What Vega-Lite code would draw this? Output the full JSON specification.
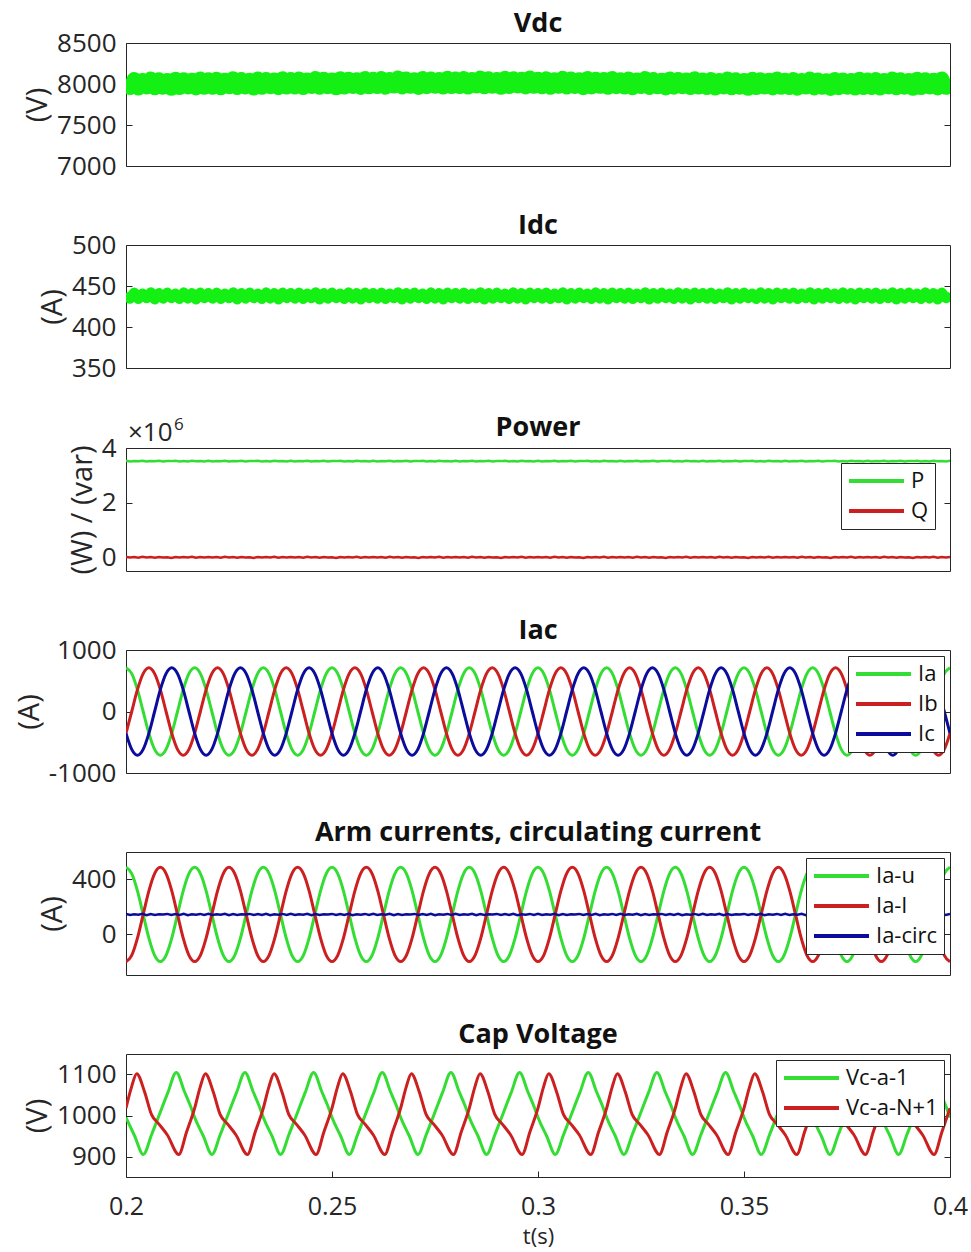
{
"$schema": "https://vega.github.io/schema/vega-lite/v6.json",
"background": "white",
"padding": {"top": 9, "left": 14, "right": 10, "bottom": 0},
"spacing": 31,
"config": {
  "font": "Open Sans",
  "view": {"stroke": "#262626", "strokeWidth": 1},
  "axis": {"labelFont": "Open Sans", "labelFontSize": 26, "labelColor": "#262626", "titleFont": "Open Sans", "titleFontSize": 29, "titleFontWeight": "normal", "titleColor": "#262626", "domain": false, "grid": false, "tickColor": "#262626", "tickSize": -6, "labelPadding": 16, "titlePadding": 4, "labelFlush": false, "labelOverlap": false, "labelExpr": "datum.value + ''"},
  "title": {"font": "Open Sans", "fontSize": 27, "fontWeight": "bold", "color": "#111", "offset": -8},
  "legend": {"orient": "top-right", "offset": 6, "fillColor": "white", "strokeColor": "#262626", "padding": 6, "symbolType": "stroke", "symbolSize": 3025, "symbolStrokeWidth": 4, "labelFont": "Open Sans", "labelFontSize": 22, "labelColor": "#111", "rowPadding": 6, "clipHeight": 24, "labelOffset": 5, "cornerRadius": 0}
},
"resolve": {"scale": {"color": "independent"}, "legend": {"color": "independent"}},
"datasets": {
"dc": [
{"t":0.2,"Vdc":8055,"Idc":441.5,"P":3.53,"Q":0.015,"circ":147},
{"t":0.201,"Vdc":7952,"Idc":434.5,"P":3.51,"Q":-0.01,"circ":139},
{"t":0.202,"Vdc":8062,"Idc":442,"P":3.525,"Q":0.01,"circ":145},
{"t":0.203,"Vdc":7945,"Idc":434,"P":3.515,"Q":-0.015,"circ":141},
{"t":0.204,"Vdc":8050,"Idc":441,"P":3.535,"Q":0.02,"circ":148},
{"t":0.205,"Vdc":7958,"Idc":435,"P":3.505,"Q":-0.005,"circ":138},
{"t":0.206,"Vdc":8068,"Idc":442.5,"P":3.52,"Q":0.01,"circ":146},
{"t":0.207,"Vdc":7948,"Idc":433.5,"P":3.515,"Q":-0.015,"circ":140},
{"t":0.208,"Vdc":8058,"Idc":441.5,"P":3.53,"Q":0.015,"circ":144},
{"t":0.209,"Vdc":7955,"Idc":434.5,"P":3.51,"Q":-0.01,"circ":142},
{"t":0.21,"Vdc":8049,"Idc":442,"P":3.525,"Q":0.005,"circ":147},
{"t":0.211,"Vdc":7941,"Idc":435,"P":3.52,"Q":-0.02,"circ":139},
{"t":0.212,"Vdc":8064,"Idc":441,"P":3.535,"Q":0.015,"circ":146},
{"t":0.213,"Vdc":7950,"Idc":434,"P":3.51,"Q":-0.01,"circ":140},
{"t":0.214,"Vdc":8057,"Idc":442.5,"P":3.52,"Q":0.01,"circ":148},
{"t":0.215,"Vdc":7957,"Idc":434.5,"P":3.505,"Q":-0.005,"circ":138},
{"t":0.216,"Vdc":8052,"Idc":441.5,"P":3.53,"Q":0.02,"circ":145},
{"t":0.217,"Vdc":7946,"Idc":433.5,"P":3.515,"Q":-0.015,"circ":141},
{"t":0.218,"Vdc":8066,"Idc":442,"P":3.525,"Q":0.01,"circ":147},
{"t":0.219,"Vdc":7953,"Idc":435,"P":3.51,"Q":-0.01,"circ":139},
{"t":0.22,"Vdc":8058,"Idc":441.5,"P":3.53,"Q":0.015,"circ":147},
{"t":0.221,"Vdc":7955,"Idc":434.5,"P":3.51,"Q":-0.01,"circ":139},
{"t":0.222,"Vdc":8065,"Idc":442,"P":3.525,"Q":0.01,"circ":145},
{"t":0.223,"Vdc":7948,"Idc":434,"P":3.515,"Q":-0.015,"circ":141},
{"t":0.224,"Vdc":8053,"Idc":441,"P":3.535,"Q":0.02,"circ":148},
{"t":0.225,"Vdc":7961,"Idc":435,"P":3.505,"Q":-0.005,"circ":138},
{"t":0.226,"Vdc":8071,"Idc":442.5,"P":3.52,"Q":0.01,"circ":146},
{"t":0.227,"Vdc":7951,"Idc":433.5,"P":3.515,"Q":-0.015,"circ":140},
{"t":0.228,"Vdc":8061,"Idc":441.5,"P":3.53,"Q":0.015,"circ":144},
{"t":0.229,"Vdc":7958,"Idc":434.5,"P":3.51,"Q":-0.01,"circ":142},
{"t":0.23,"Vdc":8052,"Idc":442,"P":3.525,"Q":0.005,"circ":147},
{"t":0.231,"Vdc":7944,"Idc":435,"P":3.52,"Q":-0.02,"circ":139},
{"t":0.232,"Vdc":8067,"Idc":441,"P":3.535,"Q":0.015,"circ":146},
{"t":0.233,"Vdc":7953,"Idc":434,"P":3.51,"Q":-0.01,"circ":140},
{"t":0.234,"Vdc":8060,"Idc":442.5,"P":3.52,"Q":0.01,"circ":148},
{"t":0.235,"Vdc":7960,"Idc":434.5,"P":3.505,"Q":-0.005,"circ":138},
{"t":0.236,"Vdc":8055,"Idc":441.5,"P":3.53,"Q":0.02,"circ":145},
{"t":0.237,"Vdc":7949,"Idc":433.5,"P":3.515,"Q":-0.015,"circ":141},
{"t":0.238,"Vdc":8069,"Idc":442,"P":3.525,"Q":0.01,"circ":147},
{"t":0.239,"Vdc":7956,"Idc":435,"P":3.51,"Q":-0.01,"circ":139},
{"t":0.24,"Vdc":8061,"Idc":441.5,"P":3.53,"Q":0.015,"circ":147},
{"t":0.241,"Vdc":7958,"Idc":434.5,"P":3.51,"Q":-0.01,"circ":139},
{"t":0.242,"Vdc":8068,"Idc":442,"P":3.525,"Q":0.01,"circ":145},
{"t":0.243,"Vdc":7951,"Idc":434,"P":3.515,"Q":-0.015,"circ":141},
{"t":0.244,"Vdc":8056,"Idc":441,"P":3.535,"Q":0.02,"circ":148},
{"t":0.245,"Vdc":7964,"Idc":435,"P":3.505,"Q":-0.005,"circ":138},
{"t":0.246,"Vdc":8074,"Idc":442.5,"P":3.52,"Q":0.01,"circ":146},
{"t":0.247,"Vdc":7954,"Idc":433.5,"P":3.515,"Q":-0.015,"circ":140},
{"t":0.248,"Vdc":8064,"Idc":441.5,"P":3.53,"Q":0.015,"circ":144},
{"t":0.249,"Vdc":7961,"Idc":434.5,"P":3.51,"Q":-0.01,"circ":142},
{"t":0.25,"Vdc":8055,"Idc":442,"P":3.525,"Q":0.005,"circ":147},
{"t":0.251,"Vdc":7947,"Idc":435,"P":3.52,"Q":-0.02,"circ":139},
{"t":0.252,"Vdc":8070,"Idc":441,"P":3.535,"Q":0.015,"circ":146},
{"t":0.253,"Vdc":7956,"Idc":434,"P":3.51,"Q":-0.01,"circ":140},
{"t":0.254,"Vdc":8063,"Idc":442.5,"P":3.52,"Q":0.01,"circ":148},
{"t":0.255,"Vdc":7963,"Idc":434.5,"P":3.505,"Q":-0.005,"circ":138},
{"t":0.256,"Vdc":8058,"Idc":441.5,"P":3.53,"Q":0.02,"circ":145},
{"t":0.257,"Vdc":7952,"Idc":433.5,"P":3.515,"Q":-0.015,"circ":141},
{"t":0.258,"Vdc":8072,"Idc":442,"P":3.525,"Q":0.01,"circ":147},
{"t":0.259,"Vdc":7959,"Idc":435,"P":3.51,"Q":-0.01,"circ":139},
{"t":0.26,"Vdc":8065,"Idc":441.5,"P":3.53,"Q":0.015,"circ":147},
{"t":0.261,"Vdc":7962,"Idc":434.5,"P":3.51,"Q":-0.01,"circ":139},
{"t":0.262,"Vdc":8072,"Idc":442,"P":3.525,"Q":0.01,"circ":145},
{"t":0.263,"Vdc":7955,"Idc":434,"P":3.515,"Q":-0.015,"circ":141},
{"t":0.264,"Vdc":8060,"Idc":441,"P":3.535,"Q":0.02,"circ":148},
{"t":0.265,"Vdc":7968,"Idc":435,"P":3.505,"Q":-0.005,"circ":138},
{"t":0.266,"Vdc":8078,"Idc":442.5,"P":3.52,"Q":0.01,"circ":146},
{"t":0.267,"Vdc":7958,"Idc":433.5,"P":3.515,"Q":-0.015,"circ":140},
{"t":0.268,"Vdc":8068,"Idc":441.5,"P":3.53,"Q":0.015,"circ":144},
{"t":0.269,"Vdc":7965,"Idc":434.5,"P":3.51,"Q":-0.01,"circ":142},
{"t":0.27,"Vdc":8059,"Idc":442,"P":3.525,"Q":0.005,"circ":147},
{"t":0.271,"Vdc":7951,"Idc":435,"P":3.52,"Q":-0.02,"circ":139},
{"t":0.272,"Vdc":8074,"Idc":441,"P":3.535,"Q":0.015,"circ":146},
{"t":0.273,"Vdc":7960,"Idc":434,"P":3.51,"Q":-0.01,"circ":140},
{"t":0.274,"Vdc":8067,"Idc":442.5,"P":3.52,"Q":0.01,"circ":148},
{"t":0.275,"Vdc":7967,"Idc":434.5,"P":3.505,"Q":-0.005,"circ":138},
{"t":0.276,"Vdc":8062,"Idc":441.5,"P":3.53,"Q":0.02,"circ":145},
{"t":0.277,"Vdc":7956,"Idc":433.5,"P":3.515,"Q":-0.015,"circ":141},
{"t":0.278,"Vdc":8076,"Idc":442,"P":3.525,"Q":0.01,"circ":147},
{"t":0.279,"Vdc":7963,"Idc":435,"P":3.51,"Q":-0.01,"circ":139},
{"t":0.28,"Vdc":8067,"Idc":441.5,"P":3.53,"Q":0.015,"circ":147},
{"t":0.281,"Vdc":7964,"Idc":434.5,"P":3.51,"Q":-0.01,"circ":139},
{"t":0.282,"Vdc":8074,"Idc":442,"P":3.525,"Q":0.01,"circ":145},
{"t":0.283,"Vdc":7957,"Idc":434,"P":3.515,"Q":-0.015,"circ":141},
{"t":0.284,"Vdc":8062,"Idc":441,"P":3.535,"Q":0.02,"circ":148},
{"t":0.285,"Vdc":7970,"Idc":435,"P":3.505,"Q":-0.005,"circ":138},
{"t":0.286,"Vdc":8080,"Idc":442.5,"P":3.52,"Q":0.01,"circ":146},
{"t":0.287,"Vdc":7960,"Idc":433.5,"P":3.515,"Q":-0.015,"circ":140},
{"t":0.288,"Vdc":8070,"Idc":441.5,"P":3.53,"Q":0.015,"circ":144},
{"t":0.289,"Vdc":7967,"Idc":434.5,"P":3.51,"Q":-0.01,"circ":142},
{"t":0.29,"Vdc":8061,"Idc":442,"P":3.525,"Q":0.005,"circ":147},
{"t":0.291,"Vdc":7953,"Idc":435,"P":3.52,"Q":-0.02,"circ":139},
{"t":0.292,"Vdc":8076,"Idc":441,"P":3.535,"Q":0.015,"circ":146},
{"t":0.293,"Vdc":7962,"Idc":434,"P":3.51,"Q":-0.01,"circ":140},
{"t":0.294,"Vdc":8069,"Idc":442.5,"P":3.52,"Q":0.01,"circ":148},
{"t":0.295,"Vdc":7969,"Idc":434.5,"P":3.505,"Q":-0.005,"circ":138},
{"t":0.296,"Vdc":8064,"Idc":441.5,"P":3.53,"Q":0.02,"circ":145},
{"t":0.297,"Vdc":7958,"Idc":433.5,"P":3.515,"Q":-0.015,"circ":141},
{"t":0.298,"Vdc":8078,"Idc":442,"P":3.525,"Q":0.01,"circ":147},
{"t":0.299,"Vdc":7965,"Idc":435,"P":3.51,"Q":-0.01,"circ":139},
{"t":0.3,"Vdc":8063,"Idc":441.5,"P":3.53,"Q":0.015,"circ":147},
{"t":0.301,"Vdc":7960,"Idc":434.5,"P":3.51,"Q":-0.01,"circ":139},
{"t":0.302,"Vdc":8070,"Idc":442,"P":3.525,"Q":0.01,"circ":145},
{"t":0.303,"Vdc":7953,"Idc":434,"P":3.515,"Q":-0.015,"circ":141},
{"t":0.304,"Vdc":8058,"Idc":441,"P":3.535,"Q":0.02,"circ":148},
{"t":0.305,"Vdc":7966,"Idc":435,"P":3.505,"Q":-0.005,"circ":138},
{"t":0.306,"Vdc":8076,"Idc":442.5,"P":3.52,"Q":0.01,"circ":146},
{"t":0.307,"Vdc":7956,"Idc":433.5,"P":3.515,"Q":-0.015,"circ":140},
{"t":0.308,"Vdc":8066,"Idc":441.5,"P":3.53,"Q":0.015,"circ":144},
{"t":0.309,"Vdc":7963,"Idc":434.5,"P":3.51,"Q":-0.01,"circ":142},
{"t":0.31,"Vdc":8057,"Idc":442,"P":3.525,"Q":0.005,"circ":147},
{"t":0.311,"Vdc":7949,"Idc":435,"P":3.52,"Q":-0.02,"circ":139},
{"t":0.312,"Vdc":8072,"Idc":441,"P":3.535,"Q":0.015,"circ":146},
{"t":0.313,"Vdc":7958,"Idc":434,"P":3.51,"Q":-0.01,"circ":140},
{"t":0.314,"Vdc":8065,"Idc":442.5,"P":3.52,"Q":0.01,"circ":148},
{"t":0.315,"Vdc":7965,"Idc":434.5,"P":3.505,"Q":-0.005,"circ":138},
{"t":0.316,"Vdc":8060,"Idc":441.5,"P":3.53,"Q":0.02,"circ":145},
{"t":0.317,"Vdc":7954,"Idc":433.5,"P":3.515,"Q":-0.015,"circ":141},
{"t":0.318,"Vdc":8074,"Idc":442,"P":3.525,"Q":0.01,"circ":147},
{"t":0.319,"Vdc":7961,"Idc":435,"P":3.51,"Q":-0.01,"circ":139},
{"t":0.32,"Vdc":8059,"Idc":441.5,"P":3.53,"Q":0.015,"circ":147},
{"t":0.321,"Vdc":7956,"Idc":434.5,"P":3.51,"Q":-0.01,"circ":139},
{"t":0.322,"Vdc":8066,"Idc":442,"P":3.525,"Q":0.01,"circ":145},
{"t":0.323,"Vdc":7949,"Idc":434,"P":3.515,"Q":-0.015,"circ":141},
{"t":0.324,"Vdc":8054,"Idc":441,"P":3.535,"Q":0.02,"circ":148},
{"t":0.325,"Vdc":7962,"Idc":435,"P":3.505,"Q":-0.005,"circ":138},
{"t":0.326,"Vdc":8072,"Idc":442.5,"P":3.52,"Q":0.01,"circ":146},
{"t":0.327,"Vdc":7952,"Idc":433.5,"P":3.515,"Q":-0.015,"circ":140},
{"t":0.328,"Vdc":8062,"Idc":441.5,"P":3.53,"Q":0.015,"circ":144},
{"t":0.329,"Vdc":7959,"Idc":434.5,"P":3.51,"Q":-0.01,"circ":142},
{"t":0.33,"Vdc":8053,"Idc":442,"P":3.525,"Q":0.005,"circ":147},
{"t":0.331,"Vdc":7945,"Idc":435,"P":3.52,"Q":-0.02,"circ":139},
{"t":0.332,"Vdc":8068,"Idc":441,"P":3.535,"Q":0.015,"circ":146},
{"t":0.333,"Vdc":7954,"Idc":434,"P":3.51,"Q":-0.01,"circ":140},
{"t":0.334,"Vdc":8061,"Idc":442.5,"P":3.52,"Q":0.01,"circ":148},
{"t":0.335,"Vdc":7961,"Idc":434.5,"P":3.505,"Q":-0.005,"circ":138},
{"t":0.336,"Vdc":8056,"Idc":441.5,"P":3.53,"Q":0.02,"circ":145},
{"t":0.337,"Vdc":7950,"Idc":433.5,"P":3.515,"Q":-0.015,"circ":141},
{"t":0.338,"Vdc":8070,"Idc":442,"P":3.525,"Q":0.01,"circ":147},
{"t":0.339,"Vdc":7957,"Idc":435,"P":3.51,"Q":-0.01,"circ":139},
{"t":0.34,"Vdc":8055,"Idc":441.5,"P":3.53,"Q":0.015,"circ":147},
{"t":0.341,"Vdc":7952,"Idc":434.5,"P":3.51,"Q":-0.01,"circ":139},
{"t":0.342,"Vdc":8062,"Idc":442,"P":3.525,"Q":0.01,"circ":145},
{"t":0.343,"Vdc":7945,"Idc":434,"P":3.515,"Q":-0.015,"circ":141},
{"t":0.344,"Vdc":8050,"Idc":441,"P":3.535,"Q":0.02,"circ":148},
{"t":0.345,"Vdc":7958,"Idc":435,"P":3.505,"Q":-0.005,"circ":138},
{"t":0.346,"Vdc":8068,"Idc":442.5,"P":3.52,"Q":0.01,"circ":146},
{"t":0.347,"Vdc":7948,"Idc":433.5,"P":3.515,"Q":-0.015,"circ":140},
{"t":0.348,"Vdc":8058,"Idc":441.5,"P":3.53,"Q":0.015,"circ":144},
{"t":0.349,"Vdc":7955,"Idc":434.5,"P":3.51,"Q":-0.01,"circ":142},
{"t":0.35,"Vdc":8049,"Idc":442,"P":3.525,"Q":0.005,"circ":147},
{"t":0.351,"Vdc":7941,"Idc":435,"P":3.52,"Q":-0.02,"circ":139},
{"t":0.352,"Vdc":8064,"Idc":441,"P":3.535,"Q":0.015,"circ":146},
{"t":0.353,"Vdc":7950,"Idc":434,"P":3.51,"Q":-0.01,"circ":140},
{"t":0.354,"Vdc":8057,"Idc":442.5,"P":3.52,"Q":0.01,"circ":148},
{"t":0.355,"Vdc":7957,"Idc":434.5,"P":3.505,"Q":-0.005,"circ":138},
{"t":0.356,"Vdc":8052,"Idc":441.5,"P":3.53,"Q":0.02,"circ":145},
{"t":0.357,"Vdc":7946,"Idc":433.5,"P":3.515,"Q":-0.015,"circ":141},
{"t":0.358,"Vdc":8066,"Idc":442,"P":3.525,"Q":0.01,"circ":147},
{"t":0.359,"Vdc":7953,"Idc":435,"P":3.51,"Q":-0.01,"circ":139},
{"t":0.36,"Vdc":8053,"Idc":441.5,"P":3.53,"Q":0.015,"circ":147},
{"t":0.361,"Vdc":7950,"Idc":434.5,"P":3.51,"Q":-0.01,"circ":139},
{"t":0.362,"Vdc":8060,"Idc":442,"P":3.525,"Q":0.01,"circ":145},
{"t":0.363,"Vdc":7943,"Idc":434,"P":3.515,"Q":-0.015,"circ":141},
{"t":0.364,"Vdc":8048,"Idc":441,"P":3.535,"Q":0.02,"circ":148},
{"t":0.365,"Vdc":7956,"Idc":435,"P":3.505,"Q":-0.005,"circ":138},
{"t":0.366,"Vdc":8066,"Idc":442.5,"P":3.52,"Q":0.01,"circ":146},
{"t":0.367,"Vdc":7946,"Idc":433.5,"P":3.515,"Q":-0.015,"circ":140},
{"t":0.368,"Vdc":8056,"Idc":441.5,"P":3.53,"Q":0.015,"circ":144},
{"t":0.369,"Vdc":7953,"Idc":434.5,"P":3.51,"Q":-0.01,"circ":142},
{"t":0.37,"Vdc":8047,"Idc":442,"P":3.525,"Q":0.005,"circ":147},
{"t":0.371,"Vdc":7939,"Idc":435,"P":3.52,"Q":-0.02,"circ":139},
{"t":0.372,"Vdc":8062,"Idc":441,"P":3.535,"Q":0.015,"circ":146},
{"t":0.373,"Vdc":7948,"Idc":434,"P":3.51,"Q":-0.01,"circ":140},
{"t":0.374,"Vdc":8055,"Idc":442.5,"P":3.52,"Q":0.01,"circ":148},
{"t":0.375,"Vdc":7955,"Idc":434.5,"P":3.505,"Q":-0.005,"circ":138},
{"t":0.376,"Vdc":8050,"Idc":441.5,"P":3.53,"Q":0.02,"circ":145},
{"t":0.377,"Vdc":7944,"Idc":433.5,"P":3.515,"Q":-0.015,"circ":141},
{"t":0.378,"Vdc":8064,"Idc":442,"P":3.525,"Q":0.01,"circ":147},
{"t":0.379,"Vdc":7951,"Idc":435,"P":3.51,"Q":-0.01,"circ":139},
{"t":0.38,"Vdc":8055,"Idc":441.5,"P":3.53,"Q":0.015,"circ":147},
{"t":0.381,"Vdc":7952,"Idc":434.5,"P":3.51,"Q":-0.01,"circ":139},
{"t":0.382,"Vdc":8062,"Idc":442,"P":3.525,"Q":0.01,"circ":145},
{"t":0.383,"Vdc":7945,"Idc":434,"P":3.515,"Q":-0.015,"circ":141},
{"t":0.384,"Vdc":8050,"Idc":441,"P":3.535,"Q":0.02,"circ":148},
{"t":0.385,"Vdc":7958,"Idc":435,"P":3.505,"Q":-0.005,"circ":138},
{"t":0.386,"Vdc":8068,"Idc":442.5,"P":3.52,"Q":0.01,"circ":146},
{"t":0.387,"Vdc":7948,"Idc":433.5,"P":3.515,"Q":-0.015,"circ":140},
{"t":0.388,"Vdc":8058,"Idc":441.5,"P":3.53,"Q":0.015,"circ":144},
{"t":0.389,"Vdc":7955,"Idc":434.5,"P":3.51,"Q":-0.01,"circ":142},
{"t":0.39,"Vdc":8049,"Idc":442,"P":3.525,"Q":0.005,"circ":147},
{"t":0.391,"Vdc":7941,"Idc":435,"P":3.52,"Q":-0.02,"circ":139},
{"t":0.392,"Vdc":8064,"Idc":441,"P":3.535,"Q":0.015,"circ":146},
{"t":0.393,"Vdc":7950,"Idc":434,"P":3.51,"Q":-0.01,"circ":140},
{"t":0.394,"Vdc":8057,"Idc":442.5,"P":3.52,"Q":0.01,"circ":148},
{"t":0.395,"Vdc":7957,"Idc":434.5,"P":3.505,"Q":-0.005,"circ":138},
{"t":0.396,"Vdc":8052,"Idc":441.5,"P":3.53,"Q":0.02,"circ":145},
{"t":0.397,"Vdc":7946,"Idc":433.5,"P":3.515,"Q":-0.015,"circ":141},
{"t":0.398,"Vdc":8066,"Idc":442,"P":3.525,"Q":0.01,"circ":147},
{"t":0.399,"Vdc":7953,"Idc":435,"P":3.51,"Q":-0.01,"circ":139},
{"t":0.4,"Vdc":8055,"Idc":441.5,"P":3.53,"Q":0.015,"circ":147}
],
"ac": [
{"t":0.2,"Ia":710,"Ib":-355,"Ic":-355,"Iu":488,"Il":-202},
{"t":0.201389,"Ia":615,"Ib":0,"Ic":-615,"Iu":442,"Il":-156},
{"t":0.202778,"Ia":355,"Ib":355,"Ic":-710,"Iu":316,"Il":-30},
{"t":0.204167,"Ia":0,"Ib":615,"Ic":-615,"Iu":143,"Il":143},
{"t":0.205556,"Ia":-355,"Ib":710,"Ic":-355,"Iu":-30,"Il":316},
{"t":0.206944,"Ia":-615,"Ib":615,"Ic":0,"Iu":-156,"Il":442},
{"t":0.208333,"Ia":-710,"Ib":355,"Ic":355,"Iu":-202,"Il":488},
{"t":0.209722,"Ia":-615,"Ib":0,"Ic":615,"Iu":-156,"Il":442},
{"t":0.211111,"Ia":-355,"Ib":-355,"Ic":710,"Iu":-30,"Il":316},
{"t":0.2125,"Ia":0,"Ib":-615,"Ic":615,"Iu":143,"Il":143},
{"t":0.213889,"Ia":355,"Ib":-710,"Ic":355,"Iu":316,"Il":-30},
{"t":0.215278,"Ia":615,"Ib":-615,"Ic":0,"Iu":442,"Il":-156},
{"t":0.216667,"Ia":710,"Ib":-355,"Ic":-355,"Iu":488,"Il":-202},
{"t":0.218056,"Ia":615,"Ib":0,"Ic":-615,"Iu":442,"Il":-156},
{"t":0.219444,"Ia":355,"Ib":355,"Ic":-710,"Iu":316,"Il":-30},
{"t":0.220833,"Ia":0,"Ib":615,"Ic":-615,"Iu":143,"Il":143},
{"t":0.222222,"Ia":-355,"Ib":710,"Ic":-355,"Iu":-30,"Il":316},
{"t":0.223611,"Ia":-615,"Ib":615,"Ic":0,"Iu":-156,"Il":442},
{"t":0.225,"Ia":-710,"Ib":355,"Ic":355,"Iu":-202,"Il":488},
{"t":0.226389,"Ia":-615,"Ib":0,"Ic":615,"Iu":-156,"Il":442},
{"t":0.227778,"Ia":-355,"Ib":-355,"Ic":710,"Iu":-30,"Il":316},
{"t":0.229167,"Ia":0,"Ib":-615,"Ic":615,"Iu":143,"Il":143},
{"t":0.230556,"Ia":355,"Ib":-710,"Ic":355,"Iu":316,"Il":-30},
{"t":0.231944,"Ia":615,"Ib":-615,"Ic":0,"Iu":442,"Il":-156},
{"t":0.233333,"Ia":710,"Ib":-355,"Ic":-355,"Iu":488,"Il":-202},
{"t":0.234722,"Ia":615,"Ib":0,"Ic":-615,"Iu":442,"Il":-156},
{"t":0.236111,"Ia":355,"Ib":355,"Ic":-710,"Iu":316,"Il":-30},
{"t":0.2375,"Ia":0,"Ib":615,"Ic":-615,"Iu":143,"Il":143},
{"t":0.238889,"Ia":-355,"Ib":710,"Ic":-355,"Iu":-30,"Il":316},
{"t":0.240278,"Ia":-615,"Ib":615,"Ic":0,"Iu":-156,"Il":442},
{"t":0.241667,"Ia":-710,"Ib":355,"Ic":355,"Iu":-202,"Il":488},
{"t":0.243056,"Ia":-615,"Ib":0,"Ic":615,"Iu":-156,"Il":442},
{"t":0.244444,"Ia":-355,"Ib":-355,"Ic":710,"Iu":-30,"Il":316},
{"t":0.245833,"Ia":0,"Ib":-615,"Ic":615,"Iu":143,"Il":143},
{"t":0.247222,"Ia":355,"Ib":-710,"Ic":355,"Iu":316,"Il":-30},
{"t":0.248611,"Ia":615,"Ib":-615,"Ic":0,"Iu":442,"Il":-156},
{"t":0.25,"Ia":710,"Ib":-355,"Ic":-355,"Iu":488,"Il":-202},
{"t":0.251389,"Ia":615,"Ib":0,"Ic":-615,"Iu":442,"Il":-156},
{"t":0.252778,"Ia":355,"Ib":355,"Ic":-710,"Iu":316,"Il":-30},
{"t":0.254167,"Ia":0,"Ib":615,"Ic":-615,"Iu":143,"Il":143},
{"t":0.255556,"Ia":-355,"Ib":710,"Ic":-355,"Iu":-30,"Il":316},
{"t":0.256944,"Ia":-615,"Ib":615,"Ic":0,"Iu":-156,"Il":442},
{"t":0.258333,"Ia":-710,"Ib":355,"Ic":355,"Iu":-202,"Il":488},
{"t":0.259722,"Ia":-615,"Ib":0,"Ic":615,"Iu":-156,"Il":442},
{"t":0.261111,"Ia":-355,"Ib":-355,"Ic":710,"Iu":-30,"Il":316},
{"t":0.2625,"Ia":0,"Ib":-615,"Ic":615,"Iu":143,"Il":143},
{"t":0.263889,"Ia":355,"Ib":-710,"Ic":355,"Iu":316,"Il":-30},
{"t":0.265278,"Ia":615,"Ib":-615,"Ic":0,"Iu":442,"Il":-156},
{"t":0.266667,"Ia":710,"Ib":-355,"Ic":-355,"Iu":488,"Il":-202},
{"t":0.268056,"Ia":615,"Ib":0,"Ic":-615,"Iu":442,"Il":-156},
{"t":0.269444,"Ia":355,"Ib":355,"Ic":-710,"Iu":316,"Il":-30},
{"t":0.270833,"Ia":0,"Ib":615,"Ic":-615,"Iu":143,"Il":143},
{"t":0.272222,"Ia":-355,"Ib":710,"Ic":-355,"Iu":-30,"Il":316},
{"t":0.273611,"Ia":-615,"Ib":615,"Ic":0,"Iu":-156,"Il":442},
{"t":0.275,"Ia":-710,"Ib":355,"Ic":355,"Iu":-202,"Il":488},
{"t":0.276389,"Ia":-615,"Ib":0,"Ic":615,"Iu":-156,"Il":442},
{"t":0.277778,"Ia":-355,"Ib":-355,"Ic":710,"Iu":-30,"Il":316},
{"t":0.279167,"Ia":0,"Ib":-615,"Ic":615,"Iu":143,"Il":143},
{"t":0.280556,"Ia":355,"Ib":-710,"Ic":355,"Iu":316,"Il":-30},
{"t":0.281944,"Ia":615,"Ib":-615,"Ic":0,"Iu":442,"Il":-156},
{"t":0.283333,"Ia":710,"Ib":-355,"Ic":-355,"Iu":488,"Il":-202},
{"t":0.284722,"Ia":615,"Ib":0,"Ic":-615,"Iu":442,"Il":-156},
{"t":0.286111,"Ia":355,"Ib":355,"Ic":-710,"Iu":316,"Il":-30},
{"t":0.2875,"Ia":0,"Ib":615,"Ic":-615,"Iu":143,"Il":143},
{"t":0.288889,"Ia":-355,"Ib":710,"Ic":-355,"Iu":-30,"Il":316},
{"t":0.290278,"Ia":-615,"Ib":615,"Ic":0,"Iu":-156,"Il":442},
{"t":0.291667,"Ia":-710,"Ib":355,"Ic":355,"Iu":-202,"Il":488},
{"t":0.293056,"Ia":-615,"Ib":0,"Ic":615,"Iu":-156,"Il":442},
{"t":0.294444,"Ia":-355,"Ib":-355,"Ic":710,"Iu":-30,"Il":316},
{"t":0.295833,"Ia":0,"Ib":-615,"Ic":615,"Iu":143,"Il":143},
{"t":0.297222,"Ia":355,"Ib":-710,"Ic":355,"Iu":316,"Il":-30},
{"t":0.298611,"Ia":615,"Ib":-615,"Ic":0,"Iu":442,"Il":-156},
{"t":0.3,"Ia":710,"Ib":-355,"Ic":-355,"Iu":488,"Il":-202},
{"t":0.301389,"Ia":615,"Ib":0,"Ic":-615,"Iu":442,"Il":-156},
{"t":0.302778,"Ia":355,"Ib":355,"Ic":-710,"Iu":316,"Il":-30},
{"t":0.304167,"Ia":0,"Ib":615,"Ic":-615,"Iu":143,"Il":143},
{"t":0.305556,"Ia":-355,"Ib":710,"Ic":-355,"Iu":-30,"Il":316},
{"t":0.306944,"Ia":-615,"Ib":615,"Ic":0,"Iu":-156,"Il":442},
{"t":0.308333,"Ia":-710,"Ib":355,"Ic":355,"Iu":-202,"Il":488},
{"t":0.309722,"Ia":-615,"Ib":0,"Ic":615,"Iu":-156,"Il":442},
{"t":0.311111,"Ia":-355,"Ib":-355,"Ic":710,"Iu":-30,"Il":316},
{"t":0.3125,"Ia":0,"Ib":-615,"Ic":615,"Iu":143,"Il":143},
{"t":0.313889,"Ia":355,"Ib":-710,"Ic":355,"Iu":316,"Il":-30},
{"t":0.315278,"Ia":615,"Ib":-615,"Ic":0,"Iu":442,"Il":-156},
{"t":0.316667,"Ia":710,"Ib":-355,"Ic":-355,"Iu":488,"Il":-202},
{"t":0.318056,"Ia":615,"Ib":0,"Ic":-615,"Iu":442,"Il":-156},
{"t":0.319444,"Ia":355,"Ib":355,"Ic":-710,"Iu":316,"Il":-30},
{"t":0.320833,"Ia":0,"Ib":615,"Ic":-615,"Iu":143,"Il":143},
{"t":0.322222,"Ia":-355,"Ib":710,"Ic":-355,"Iu":-30,"Il":316},
{"t":0.323611,"Ia":-615,"Ib":615,"Ic":0,"Iu":-156,"Il":442},
{"t":0.325,"Ia":-710,"Ib":355,"Ic":355,"Iu":-202,"Il":488},
{"t":0.326389,"Ia":-615,"Ib":0,"Ic":615,"Iu":-156,"Il":442},
{"t":0.327778,"Ia":-355,"Ib":-355,"Ic":710,"Iu":-30,"Il":316},
{"t":0.329167,"Ia":0,"Ib":-615,"Ic":615,"Iu":143,"Il":143},
{"t":0.330556,"Ia":355,"Ib":-710,"Ic":355,"Iu":316,"Il":-30},
{"t":0.331944,"Ia":615,"Ib":-615,"Ic":0,"Iu":442,"Il":-156},
{"t":0.333333,"Ia":710,"Ib":-355,"Ic":-355,"Iu":488,"Il":-202},
{"t":0.334722,"Ia":615,"Ib":0,"Ic":-615,"Iu":442,"Il":-156},
{"t":0.336111,"Ia":355,"Ib":355,"Ic":-710,"Iu":316,"Il":-30},
{"t":0.3375,"Ia":0,"Ib":615,"Ic":-615,"Iu":143,"Il":143},
{"t":0.338889,"Ia":-355,"Ib":710,"Ic":-355,"Iu":-30,"Il":316},
{"t":0.340278,"Ia":-615,"Ib":615,"Ic":0,"Iu":-156,"Il":442},
{"t":0.341667,"Ia":-710,"Ib":355,"Ic":355,"Iu":-202,"Il":488},
{"t":0.343056,"Ia":-615,"Ib":0,"Ic":615,"Iu":-156,"Il":442},
{"t":0.344444,"Ia":-355,"Ib":-355,"Ic":710,"Iu":-30,"Il":316},
{"t":0.345833,"Ia":0,"Ib":-615,"Ic":615,"Iu":143,"Il":143},
{"t":0.347222,"Ia":355,"Ib":-710,"Ic":355,"Iu":316,"Il":-30},
{"t":0.348611,"Ia":615,"Ib":-615,"Ic":0,"Iu":442,"Il":-156},
{"t":0.35,"Ia":710,"Ib":-355,"Ic":-355,"Iu":488,"Il":-202},
{"t":0.351389,"Ia":615,"Ib":0,"Ic":-615,"Iu":442,"Il":-156},
{"t":0.352778,"Ia":355,"Ib":355,"Ic":-710,"Iu":316,"Il":-30},
{"t":0.354167,"Ia":0,"Ib":615,"Ic":-615,"Iu":143,"Il":143},
{"t":0.355556,"Ia":-355,"Ib":710,"Ic":-355,"Iu":-30,"Il":316},
{"t":0.356944,"Ia":-615,"Ib":615,"Ic":0,"Iu":-156,"Il":442},
{"t":0.358333,"Ia":-710,"Ib":355,"Ic":355,"Iu":-202,"Il":488},
{"t":0.359722,"Ia":-615,"Ib":0,"Ic":615,"Iu":-156,"Il":442},
{"t":0.361111,"Ia":-355,"Ib":-355,"Ic":710,"Iu":-30,"Il":316},
{"t":0.3625,"Ia":0,"Ib":-615,"Ic":615,"Iu":143,"Il":143},
{"t":0.363889,"Ia":355,"Ib":-710,"Ic":355,"Iu":316,"Il":-30},
{"t":0.365278,"Ia":615,"Ib":-615,"Ic":0,"Iu":442,"Il":-156},
{"t":0.366667,"Ia":710,"Ib":-355,"Ic":-355,"Iu":488,"Il":-202},
{"t":0.368056,"Ia":615,"Ib":0,"Ic":-615,"Iu":442,"Il":-156},
{"t":0.369444,"Ia":355,"Ib":355,"Ic":-710,"Iu":316,"Il":-30},
{"t":0.370833,"Ia":0,"Ib":615,"Ic":-615,"Iu":143,"Il":143},
{"t":0.372222,"Ia":-355,"Ib":710,"Ic":-355,"Iu":-30,"Il":316},
{"t":0.373611,"Ia":-615,"Ib":615,"Ic":0,"Iu":-156,"Il":442},
{"t":0.375,"Ia":-710,"Ib":355,"Ic":355,"Iu":-202,"Il":488},
{"t":0.376389,"Ia":-615,"Ib":0,"Ic":615,"Iu":-156,"Il":442},
{"t":0.377778,"Ia":-355,"Ib":-355,"Ic":710,"Iu":-30,"Il":316},
{"t":0.379167,"Ia":0,"Ib":-615,"Ic":615,"Iu":143,"Il":143},
{"t":0.380556,"Ia":355,"Ib":-710,"Ic":355,"Iu":316,"Il":-30},
{"t":0.381944,"Ia":615,"Ib":-615,"Ic":0,"Iu":442,"Il":-156},
{"t":0.383333,"Ia":710,"Ib":-355,"Ic":-355,"Iu":488,"Il":-202},
{"t":0.384722,"Ia":615,"Ib":0,"Ic":-615,"Iu":442,"Il":-156},
{"t":0.386111,"Ia":355,"Ib":355,"Ic":-710,"Iu":316,"Il":-30},
{"t":0.3875,"Ia":0,"Ib":615,"Ic":-615,"Iu":143,"Il":143},
{"t":0.388889,"Ia":-355,"Ib":710,"Ic":-355,"Iu":-30,"Il":316},
{"t":0.390278,"Ia":-615,"Ib":615,"Ic":0,"Iu":-156,"Il":442},
{"t":0.391667,"Ia":-710,"Ib":355,"Ic":355,"Iu":-202,"Il":488},
{"t":0.393056,"Ia":-615,"Ib":0,"Ic":615,"Iu":-156,"Il":442},
{"t":0.394444,"Ia":-355,"Ib":-355,"Ic":710,"Iu":-30,"Il":316},
{"t":0.395833,"Ia":0,"Ib":-615,"Ic":615,"Iu":143,"Il":143},
{"t":0.397222,"Ia":355,"Ib":-710,"Ic":355,"Iu":316,"Il":-30},
{"t":0.398611,"Ia":615,"Ib":-615,"Ic":0,"Iu":442,"Il":-156},
{"t":0.4,"Ia":710,"Ib":-355,"Ic":-355,"Iu":488,"Il":-202}
],
"cap": [
{"t":0.2,"s":"Vc-a-1","v":995},{"t":0.2021,"s":"Vc-a-1","v":950},{"t":0.2042,"s":"Vc-a-1","v":905},{"t":0.2062,"s":"Vc-a-1","v":953},{"t":0.2082,"s":"Vc-a-1","v":1005},{"t":0.2102,"s":"Vc-a-1","v":1057},{"t":0.2122,"s":"Vc-a-1","v":1105},{"t":0.2142,"s":"Vc-a-1","v":1058},{"t":0.2157,"s":"Vc-a-1","v":1022},
{"t":0.216667,"s":"Vc-a-1","v":995},{"t":0.218767,"s":"Vc-a-1","v":950},{"t":0.220867,"s":"Vc-a-1","v":905},{"t":0.222867,"s":"Vc-a-1","v":953},{"t":0.224867,"s":"Vc-a-1","v":1005},{"t":0.226867,"s":"Vc-a-1","v":1057},{"t":0.228867,"s":"Vc-a-1","v":1105},{"t":0.230867,"s":"Vc-a-1","v":1058},{"t":0.232367,"s":"Vc-a-1","v":1022},
{"t":0.233333,"s":"Vc-a-1","v":995},{"t":0.235433,"s":"Vc-a-1","v":950},{"t":0.237533,"s":"Vc-a-1","v":905},{"t":0.239533,"s":"Vc-a-1","v":953},{"t":0.241533,"s":"Vc-a-1","v":1005},{"t":0.243533,"s":"Vc-a-1","v":1057},{"t":0.245533,"s":"Vc-a-1","v":1105},{"t":0.247533,"s":"Vc-a-1","v":1058},{"t":0.249033,"s":"Vc-a-1","v":1022},
{"t":0.25,"s":"Vc-a-1","v":995},{"t":0.2521,"s":"Vc-a-1","v":950},{"t":0.2542,"s":"Vc-a-1","v":905},{"t":0.2562,"s":"Vc-a-1","v":953},{"t":0.2582,"s":"Vc-a-1","v":1005},{"t":0.2602,"s":"Vc-a-1","v":1057},{"t":0.2622,"s":"Vc-a-1","v":1105},{"t":0.2642,"s":"Vc-a-1","v":1058},{"t":0.2657,"s":"Vc-a-1","v":1022},
{"t":0.266667,"s":"Vc-a-1","v":995},{"t":0.268767,"s":"Vc-a-1","v":950},{"t":0.270867,"s":"Vc-a-1","v":905},{"t":0.272867,"s":"Vc-a-1","v":953},{"t":0.274867,"s":"Vc-a-1","v":1005},{"t":0.276867,"s":"Vc-a-1","v":1057},{"t":0.278867,"s":"Vc-a-1","v":1105},{"t":0.280867,"s":"Vc-a-1","v":1058},{"t":0.282367,"s":"Vc-a-1","v":1022},
{"t":0.283333,"s":"Vc-a-1","v":995},{"t":0.285433,"s":"Vc-a-1","v":950},{"t":0.287533,"s":"Vc-a-1","v":905},{"t":0.289533,"s":"Vc-a-1","v":953},{"t":0.291533,"s":"Vc-a-1","v":1005},{"t":0.293533,"s":"Vc-a-1","v":1057},{"t":0.295533,"s":"Vc-a-1","v":1105},{"t":0.297533,"s":"Vc-a-1","v":1058},{"t":0.299033,"s":"Vc-a-1","v":1022},
{"t":0.3,"s":"Vc-a-1","v":995},{"t":0.3021,"s":"Vc-a-1","v":950},{"t":0.3042,"s":"Vc-a-1","v":905},{"t":0.3062,"s":"Vc-a-1","v":953},{"t":0.3082,"s":"Vc-a-1","v":1005},{"t":0.3102,"s":"Vc-a-1","v":1057},{"t":0.3122,"s":"Vc-a-1","v":1105},{"t":0.3142,"s":"Vc-a-1","v":1058},{"t":0.3157,"s":"Vc-a-1","v":1022},
{"t":0.316667,"s":"Vc-a-1","v":995},{"t":0.318767,"s":"Vc-a-1","v":950},{"t":0.320867,"s":"Vc-a-1","v":905},{"t":0.322867,"s":"Vc-a-1","v":953},{"t":0.324867,"s":"Vc-a-1","v":1005},{"t":0.326867,"s":"Vc-a-1","v":1057},{"t":0.328867,"s":"Vc-a-1","v":1105},{"t":0.330867,"s":"Vc-a-1","v":1058},{"t":0.332367,"s":"Vc-a-1","v":1022},
{"t":0.333333,"s":"Vc-a-1","v":995},{"t":0.335433,"s":"Vc-a-1","v":950},{"t":0.337533,"s":"Vc-a-1","v":905},{"t":0.339533,"s":"Vc-a-1","v":953},{"t":0.341533,"s":"Vc-a-1","v":1005},{"t":0.343533,"s":"Vc-a-1","v":1057},{"t":0.345533,"s":"Vc-a-1","v":1105},{"t":0.347533,"s":"Vc-a-1","v":1058},{"t":0.349033,"s":"Vc-a-1","v":1022},
{"t":0.35,"s":"Vc-a-1","v":995},{"t":0.3521,"s":"Vc-a-1","v":950},{"t":0.3542,"s":"Vc-a-1","v":905},{"t":0.3562,"s":"Vc-a-1","v":953},{"t":0.3582,"s":"Vc-a-1","v":1005},{"t":0.3602,"s":"Vc-a-1","v":1057},{"t":0.3622,"s":"Vc-a-1","v":1105},{"t":0.3642,"s":"Vc-a-1","v":1058},{"t":0.3657,"s":"Vc-a-1","v":1022},
{"t":0.366667,"s":"Vc-a-1","v":995},{"t":0.368767,"s":"Vc-a-1","v":950},{"t":0.370867,"s":"Vc-a-1","v":905},{"t":0.372867,"s":"Vc-a-1","v":953},{"t":0.374867,"s":"Vc-a-1","v":1005},{"t":0.376867,"s":"Vc-a-1","v":1057},{"t":0.378867,"s":"Vc-a-1","v":1105},{"t":0.380867,"s":"Vc-a-1","v":1058},{"t":0.382367,"s":"Vc-a-1","v":1022},
{"t":0.383333,"s":"Vc-a-1","v":995},{"t":0.385433,"s":"Vc-a-1","v":950},{"t":0.387533,"s":"Vc-a-1","v":905},{"t":0.389533,"s":"Vc-a-1","v":953},{"t":0.391533,"s":"Vc-a-1","v":1005},{"t":0.393533,"s":"Vc-a-1","v":1057},{"t":0.395533,"s":"Vc-a-1","v":1105},{"t":0.397533,"s":"Vc-a-1","v":1058},{"t":0.399033,"s":"Vc-a-1","v":1022},
{"t":0.4,"s":"Vc-a-1","v":995},
{"t":0.2,"s":"Vc-a-N+1","v":1018},{"t":0.2013,"s":"Vc-a-N+1","v":1068},{"t":0.2026,"s":"Vc-a-N+1","v":1102},{"t":0.2045,"s":"Vc-a-N+1","v":1058},{"t":0.2062,"s":"Vc-a-N+1","v":1002},{"t":0.208,"s":"Vc-a-N+1","v":979},{"t":0.21,"s":"Vc-a-N+1","v":953},{"t":0.2128,"s":"Vc-a-N+1","v":905},{"t":0.2147,"s":"Vc-a-N+1","v":960},
{"t":0.216667,"s":"Vc-a-N+1","v":1018},{"t":0.217967,"s":"Vc-a-N+1","v":1068},{"t":0.219267,"s":"Vc-a-N+1","v":1102},{"t":0.221167,"s":"Vc-a-N+1","v":1058},{"t":0.222867,"s":"Vc-a-N+1","v":1002},{"t":0.224667,"s":"Vc-a-N+1","v":979},{"t":0.226667,"s":"Vc-a-N+1","v":953},{"t":0.229467,"s":"Vc-a-N+1","v":905},{"t":0.231367,"s":"Vc-a-N+1","v":960},
{"t":0.233333,"s":"Vc-a-N+1","v":1018},{"t":0.234633,"s":"Vc-a-N+1","v":1068},{"t":0.235933,"s":"Vc-a-N+1","v":1102},{"t":0.237833,"s":"Vc-a-N+1","v":1058},{"t":0.239533,"s":"Vc-a-N+1","v":1002},{"t":0.241333,"s":"Vc-a-N+1","v":979},{"t":0.243333,"s":"Vc-a-N+1","v":953},{"t":0.246133,"s":"Vc-a-N+1","v":905},{"t":0.248033,"s":"Vc-a-N+1","v":960},
{"t":0.25,"s":"Vc-a-N+1","v":1018},{"t":0.2513,"s":"Vc-a-N+1","v":1068},{"t":0.2526,"s":"Vc-a-N+1","v":1102},{"t":0.2545,"s":"Vc-a-N+1","v":1058},{"t":0.2562,"s":"Vc-a-N+1","v":1002},{"t":0.258,"s":"Vc-a-N+1","v":979},{"t":0.26,"s":"Vc-a-N+1","v":953},{"t":0.2628,"s":"Vc-a-N+1","v":905},{"t":0.2647,"s":"Vc-a-N+1","v":960},
{"t":0.266667,"s":"Vc-a-N+1","v":1018},{"t":0.267967,"s":"Vc-a-N+1","v":1068},{"t":0.269267,"s":"Vc-a-N+1","v":1102},{"t":0.271167,"s":"Vc-a-N+1","v":1058},{"t":0.272867,"s":"Vc-a-N+1","v":1002},{"t":0.274667,"s":"Vc-a-N+1","v":979},{"t":0.276667,"s":"Vc-a-N+1","v":953},{"t":0.279467,"s":"Vc-a-N+1","v":905},{"t":0.281367,"s":"Vc-a-N+1","v":960},
{"t":0.283333,"s":"Vc-a-N+1","v":1018},{"t":0.284633,"s":"Vc-a-N+1","v":1068},{"t":0.285933,"s":"Vc-a-N+1","v":1102},{"t":0.287833,"s":"Vc-a-N+1","v":1058},{"t":0.289533,"s":"Vc-a-N+1","v":1002},{"t":0.291333,"s":"Vc-a-N+1","v":979},{"t":0.293333,"s":"Vc-a-N+1","v":953},{"t":0.296133,"s":"Vc-a-N+1","v":905},{"t":0.298033,"s":"Vc-a-N+1","v":960},
{"t":0.3,"s":"Vc-a-N+1","v":1018},{"t":0.3013,"s":"Vc-a-N+1","v":1068},{"t":0.3026,"s":"Vc-a-N+1","v":1102},{"t":0.3045,"s":"Vc-a-N+1","v":1058},{"t":0.3062,"s":"Vc-a-N+1","v":1002},{"t":0.308,"s":"Vc-a-N+1","v":979},{"t":0.31,"s":"Vc-a-N+1","v":953},{"t":0.3128,"s":"Vc-a-N+1","v":905},{"t":0.3147,"s":"Vc-a-N+1","v":960},
{"t":0.316667,"s":"Vc-a-N+1","v":1018},{"t":0.317967,"s":"Vc-a-N+1","v":1068},{"t":0.319267,"s":"Vc-a-N+1","v":1102},{"t":0.321167,"s":"Vc-a-N+1","v":1058},{"t":0.322867,"s":"Vc-a-N+1","v":1002},{"t":0.324667,"s":"Vc-a-N+1","v":979},{"t":0.326667,"s":"Vc-a-N+1","v":953},{"t":0.329467,"s":"Vc-a-N+1","v":905},{"t":0.331367,"s":"Vc-a-N+1","v":960},
{"t":0.333333,"s":"Vc-a-N+1","v":1018},{"t":0.334633,"s":"Vc-a-N+1","v":1068},{"t":0.335933,"s":"Vc-a-N+1","v":1102},{"t":0.337833,"s":"Vc-a-N+1","v":1058},{"t":0.339533,"s":"Vc-a-N+1","v":1002},{"t":0.341333,"s":"Vc-a-N+1","v":979},{"t":0.343333,"s":"Vc-a-N+1","v":953},{"t":0.346133,"s":"Vc-a-N+1","v":905},{"t":0.348033,"s":"Vc-a-N+1","v":960},
{"t":0.35,"s":"Vc-a-N+1","v":1018},{"t":0.3513,"s":"Vc-a-N+1","v":1068},{"t":0.3526,"s":"Vc-a-N+1","v":1102},{"t":0.3545,"s":"Vc-a-N+1","v":1058},{"t":0.3562,"s":"Vc-a-N+1","v":1002},{"t":0.358,"s":"Vc-a-N+1","v":979},{"t":0.36,"s":"Vc-a-N+1","v":953},{"t":0.3628,"s":"Vc-a-N+1","v":905},{"t":0.3647,"s":"Vc-a-N+1","v":960},
{"t":0.366667,"s":"Vc-a-N+1","v":1018},{"t":0.367967,"s":"Vc-a-N+1","v":1068},{"t":0.369267,"s":"Vc-a-N+1","v":1102},{"t":0.371167,"s":"Vc-a-N+1","v":1058},{"t":0.372867,"s":"Vc-a-N+1","v":1002},{"t":0.374667,"s":"Vc-a-N+1","v":979},{"t":0.376667,"s":"Vc-a-N+1","v":953},{"t":0.379467,"s":"Vc-a-N+1","v":905},{"t":0.381367,"s":"Vc-a-N+1","v":960},
{"t":0.383333,"s":"Vc-a-N+1","v":1018},{"t":0.384633,"s":"Vc-a-N+1","v":1068},{"t":0.385933,"s":"Vc-a-N+1","v":1102},{"t":0.387833,"s":"Vc-a-N+1","v":1058},{"t":0.389533,"s":"Vc-a-N+1","v":1002},{"t":0.391333,"s":"Vc-a-N+1","v":979},{"t":0.393333,"s":"Vc-a-N+1","v":953},{"t":0.396133,"s":"Vc-a-N+1","v":905},{"t":0.398033,"s":"Vc-a-N+1","v":960},
{"t":0.4,"s":"Vc-a-N+1","v":1018}
]
},
"vconcat": [
{
  "width": 824, "height": 123,
  "title": "Vdc",
  "resolve": {"axis": {"y": "independent"}},
  "layer": [
    {
      "data": {"name": "dc"},
      "mark": {"type": "line", "color": "#14f014", "strokeWidth": 14, "strokeJoin": "round", "interpolate": "monotone", "clip": true},
      "encoding": {
        "x": {"field": "t", "type": "quantitative", "scale": {"domain": [0.2, 0.4]}, "axis": {"labels": false, "ticks": false, "title": "\u00a0", "titleFontSize": 13, "titlePadding": 0}},
        "y": {"field": "Vdc", "type": "quantitative", "scale": {"domain": [7000, 8500], "nice": false, "zero": false}, "axis": {"values": [7000, 7500, 8000, 8500], "title": "(V)"}}
      }
    },
    {
      "data": {"values": [{}]},
      "mark": {"type": "rule", "opacity": 0},
      "encoding": {"y": {"datum": 7500, "type": "quantitative", "scale": {"domain": [7000, 8500], "nice": false, "zero": false}, "axis": {"orient": "right", "labels": false, "title": null, "values": [7500, 8000]}}}
    }
  ]
},
{
  "width": 824, "height": 123,
  "title": "Idc",
  "resolve": {"axis": {"y": "independent"}},
  "layer": [
    {
      "data": {"name": "dc"},
      "mark": {"type": "line", "color": "#14f014", "strokeWidth": 10, "strokeJoin": "round", "interpolate": "monotone", "clip": true},
      "encoding": {
        "x": {"field": "t", "type": "quantitative", "scale": {"domain": [0.2, 0.4]}, "axis": {"labels": false, "ticks": false, "title": "\u00a0", "titleFontSize": 13, "titlePadding": 0}},
        "y": {"field": "Idc", "type": "quantitative", "scale": {"domain": [350, 500], "nice": false, "zero": false}, "axis": {"values": [350, 400, 450, 500], "title": "(A)"}}
      }
    },
    {
      "data": {"values": [{}]},
      "mark": {"type": "rule", "opacity": 0},
      "encoding": {"y": {"datum": 400, "type": "quantitative", "scale": {"domain": [350, 500], "nice": false, "zero": false}, "axis": {"orient": "right", "labels": false, "title": null, "values": [400, 450]}}}
    }
  ]
},
{
  "width": 824, "height": 123,
  "title": {"text": "Power", "offset": -26},
  "resolve": {"axis": {"y": "independent"}},
  "layer": [
    {
      "data": {"name": "dc"},
      "transform": [{"fold": ["P", "Q"], "as": ["s", "v"]}],
      "mark": {"type": "line", "strokeWidth": 2.5, "clip": true},
      "encoding": {
        "x": {"field": "t", "type": "quantitative", "scale": {"domain": [0.2, 0.4]}, "axis": {"labels": false, "ticks": false, "title": "\u00a0", "titleFontSize": 13, "titlePadding": 0}},
        "y": {"field": "v", "type": "quantitative", "scale": {"domain": [-0.5, 4], "nice": false, "zero": false}, "axis": {"values": [0, 2, 4], "title": "(W) / (var)"}},
        "color": {"field": "s", "type": "nominal", "scale": {"domain": ["P", "Q"], "range": ["#33dd33", "#cc1f1f"]}, "legend": {"title": null, "offset": 15}}
      }
    },
    {
      "data": {"values": [{}]},
      "mark": {"type": "text", "text": "×10", "align": "left", "baseline": "alphabetic", "dx": 2, "dy": -7, "fontSize": 26, "font": "Open Sans", "color": "#262626"},
      "encoding": {"x": {"datum": 0.2, "type": "quantitative"}, "y": {"datum": 4, "type": "quantitative", "scale": {"domain": [-0.5, 4], "nice": false, "zero": false}, "axis": null}}
    },
    {
      "data": {"values": [{}]},
      "mark": {"type": "text", "text": "6", "align": "left", "baseline": "alphabetic", "dx": 48, "dy": -18, "fontSize": 17, "font": "Open Sans", "color": "#262626"},
      "encoding": {"x": {"datum": 0.2, "type": "quantitative"}, "y": {"datum": 4, "type": "quantitative", "scale": {"domain": [-0.5, 4], "nice": false, "zero": false}, "axis": null}}
    },
    {
      "data": {"values": [{}]},
      "mark": {"type": "rule", "opacity": 0},
      "encoding": {"y": {"datum": 2, "type": "quantitative", "scale": {"domain": [-0.5, 4], "nice": false, "zero": false}, "axis": {"orient": "right", "labels": false, "title": null, "values": [0, 2]}}}
    }
  ]
},
{
  "width": 824, "height": 123,
  "title": "Iac",
  "resolve": {"axis": {"y": "independent"}},
  "layer": [
    {
      "data": {"name": "ac"},
      "transform": [{"fold": ["Ia", "Ib", "Ic"], "as": ["s", "v"]}],
      "mark": {"type": "line", "strokeWidth": 3, "interpolate": "monotone", "clip": true},
      "encoding": {
        "x": {"field": "t", "type": "quantitative", "scale": {"domain": [0.2, 0.4]}, "axis": {"labels": false, "ticks": false, "title": "\u00a0", "titleFontSize": 13, "titlePadding": 0}},
        "y": {"field": "v", "type": "quantitative", "scale": {"domain": [-1000, 1000], "nice": false, "zero": false}, "axis": {"values": [-1000, 0, 1000], "title": "(A)"}},
        "color": {"field": "s", "type": "nominal", "scale": {"domain": ["Ia", "Ib", "Ic"], "range": ["#33dd33", "#cc1f1f", "#0c0c9c"]}, "legend": {"title": null}}
      }
    },
    {
      "data": {"values": [{}]},
      "mark": {"type": "rule", "opacity": 0},
      "encoding": {"y": {"datum": 0, "type": "quantitative", "scale": {"domain": [-1000, 1000], "nice": false, "zero": false}, "axis": {"orient": "right", "labels": false, "title": null, "values": [0]}}}
    }
  ]
},
{
  "width": 824, "height": 123,
  "title": {"text": "Arm currents, circulating current", "offset": 5},
  "resolve": {"axis": {"y": "independent"}},
  "layer": [
    {
      "data": {"name": "ac"},
      "transform": [{"fold": ["Iu", "Il"], "as": ["s", "v"]}],
      "mark": {"type": "line", "strokeWidth": 3, "interpolate": "monotone", "clip": true},
      "encoding": {
        "x": {"field": "t", "type": "quantitative", "scale": {"domain": [0.2, 0.4]}, "axis": {"labels": false, "ticks": false, "title": "\u00a0", "titleFontSize": 13, "titlePadding": 0}},
        "y": {"field": "v", "type": "quantitative", "scale": {"domain": [-300, 600], "nice": false, "zero": false}, "axis": {"values": [0, 400], "title": "(A)"}},
        "color": {"field": "s", "type": "nominal", "scale": {"domain": ["Iu", "Il", "circ"], "range": ["#33dd33", "#cc1f1f", "#0c0c9c"]}, "legend": {"title": null, "labelExpr": "{'Iu':'Ia-u','Il':'Ia-l','circ':'Ia-circ'}[datum.label]"}}
      }
    },
    {
      "data": {"name": "dc"},
      "transform": [{"fold": ["circ"], "as": ["s", "v"]}],
      "mark": {"type": "line", "strokeWidth": 2.5, "clip": true},
      "encoding": {
        "x": {"field": "t", "type": "quantitative"},
        "y": {"field": "v", "type": "quantitative", "scale": {"domain": [-300, 600], "nice": false, "zero": false}, "axis": null},
        "color": {"field": "s", "type": "nominal"}
      }
    },
    {
      "data": {"values": [{}]},
      "mark": {"type": "rule", "opacity": 0},
      "encoding": {"y": {"datum": 0, "type": "quantitative", "scale": {"domain": [-300, 600], "nice": false, "zero": false}, "axis": {"orient": "right", "labels": false, "title": null, "values": [0, 400]}}}
    }
  ]
},
{
  "width": 824, "height": 123,
  "title": {"text": "Cap Voltage", "offset": 5},
  "resolve": {"axis": {"y": "independent"}},
  "layer": [
    {
      "data": {"name": "cap"},
      "mark": {"type": "line", "strokeWidth": 3, "interpolate": "monotone", "clip": true},
      "encoding": {
        "x": {"field": "t", "type": "quantitative", "scale": {"domain": [0.2, 0.4]}, "axis": {"values": [0.2, 0.25, 0.3, 0.35, 0.4], "title": "t(s)", "titlePadding": 7, "labelPadding": 23, "labelFontSize": 25, "titleFontSize": 22}},
        "y": {"field": "v", "type": "quantitative", "scale": {"domain": [850, 1150], "nice": false, "zero": false}, "axis": {"values": [900, 1000, 1100], "title": "(V)"}},
        "color": {"field": "s", "type": "nominal", "scale": {"domain": ["Vc-a-1", "Vc-a-N+1"], "range": ["#33dd33", "#cc1f1f"]}, "legend": {"title": null}}
      }
    },
    {
      "data": {"values": [{}]},
      "mark": {"type": "rule", "opacity": 0},
      "encoding": {"y": {"datum": 900, "type": "quantitative", "scale": {"domain": [850, 1150], "nice": false, "zero": false}, "axis": {"orient": "right", "labels": false, "title": null, "values": [900, 1000, 1100]}}}
    }
  ]
}
]
}
